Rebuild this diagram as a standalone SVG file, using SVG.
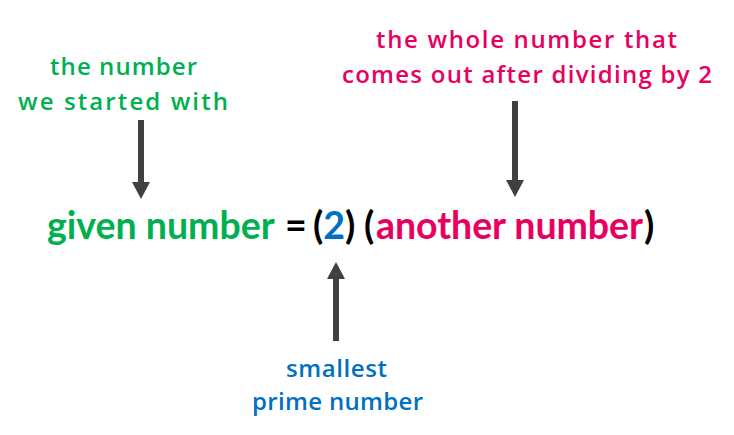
<svg xmlns="http://www.w3.org/2000/svg" width="734" height="435" viewBox="0 0 734 435">
<defs>
<style>
.main{font-family:Lato,"Open Sans",sans-serif;font-weight:bold;font-size:37.5px;}
.hand{font-family:"Open Sans",Lato,sans-serif;font-size:24px;font-weight:600;}
.g{fill:#00b050}.p{fill:#e8005f}.b{fill:#0070c0}.k{fill:#000}
.arr{fill:#404040}
</style>
</defs>
<rect width="734" height="435" fill="#fff"/>
<g id="equation">
<text class="main" y="239"><tspan class="g" x="47">given number</tspan><tspan class="k" x="285">=</tspan><tspan class="k" x="313">(</tspan><tspan class="b">2</tspan><tspan class="k">)</tspan><tspan class="k" x="364">(</tspan><tspan class="p" x="376" textLength="267" lengthAdjust="spacing">another number</tspan><tspan class="k" x="644">)</tspan></text>
</g>
<g id="label-given">
<text class="hand g" x="50" y="75" textLength="147" lengthAdjust="spacing">the number</text>
<text class="hand g" x="18" y="110" textLength="210" lengthAdjust="spacing">we started with</text>
</g>
<g id="label-another">
<text class="hand p" x="376" y="48" textLength="301" lengthAdjust="spacing">the whole number that</text>
<text class="hand p" x="342" y="83" textLength="370" lengthAdjust="spacing">comes out after dividing by 2</text>
</g>
<g id="label-prime">
<text class="hand b" x="286" y="377" textLength="101" lengthAdjust="spacing">smallest</text>
<text class="hand b" x="252" y="410" textLength="171" lengthAdjust="spacing">prime number</text>
</g>
<g id="connectors">
<path class="arr" d="M138 120 H144 V182 H150 L141 199 L132 182 H138 Z"/>
<path class="arr" d="M512 101 H518 V180 H524 L515 197 L506 180 H512 Z"/>
<path class="arr" d="M333 341 H339 V279 H345 L336 262 L327 279 H333 Z"/>
</g>
</svg>
